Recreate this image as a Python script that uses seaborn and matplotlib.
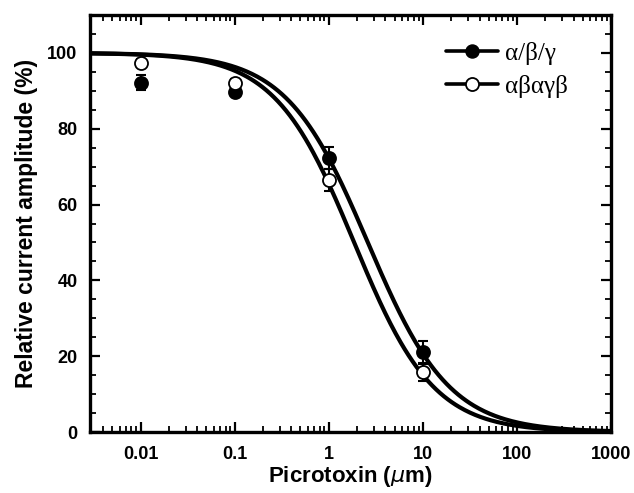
import numpy as np
import pandas as pd
import matplotlib
matplotlib.use("Agg")
import matplotlib.pyplot as plt
import seaborn as sns
from matplotlib.lines import Line2D
from matplotlib.ticker import LogLocator, MultipleLocator, NullFormatter, FixedLocator, FixedFormatter

# ---- data ----
conc = [0.01, 0.1, 1, 10]
filled_vals = [92.1, 89.6, 72.2, 21.0]
filled_err = [2.0, 1.0, 2.9, 3.1]
open_vals = [97.3, 92.0, 66.4, 15.9]
open_err = [1.0, 1.0, 2.9, 2.4]
series_names = ["α/β/γ", "αβαγβ"]
ic50 = [2.6, 1.86]
hill_n = [1.0, 1.03]
xtick_vals = [0.01, 0.1, 1, 10, 100, 1000]
xtick_labels = ["0.01", "0.1", "1", "10", "100", "1000"]
ytick_vals = [0, 20, 40, 60, 80, 100]

sns.set_style("ticks")
plt.rcParams['font.family'] = ['Liberation Sans', 'DejaVu Sans']
plt.rcParams['text.color'] = 'black'
plt.rcParams['axes.labelcolor'] = 'black'
plt.rcParams['xtick.color'] = 'black'
plt.rcParams['ytick.color'] = 'black'

fig = plt.figure(figsize=(6.34, 4.93), dpi=100)
ax = fig.add_axes([0.142, 0.1237, 0.8218, 0.8459])

# fitted curves
xfit = np.logspace(np.log10(0.0029), np.log10(1000), 400)
rows = []
for name, c, n in zip(series_names, ic50, hill_n):
    yfit = 100.0 / (1.0 + (xfit / c) ** n)
    rows.append(pd.DataFrame({"x": xfit, "y": yfit, "s": name}))
curves = pd.concat(rows)
sns.lineplot(data=curves, x="x", y="y", units="s", estimator=None,
             color="black", linewidth=3.0, ax=ax, legend=False, zorder=2)

# error bars
ax.errorbar(conc, filled_vals, yerr=filled_err, fmt="none", ecolor="black",
            elinewidth=1.5, capsize=3.5, capthick=1.5, zorder=3)
ax.errorbar(conc, open_vals, yerr=open_err, fmt="none", ecolor="black",
            elinewidth=1.5, capsize=3.5, capthick=1.5, zorder=3)

pts = pd.DataFrame({"x": conc * 2, "y": filled_vals + open_vals,
                    "s": [series_names[0]] * 4 + [series_names[1]] * 4})
sns.scatterplot(data=pts[pts.s == series_names[0]], x="x", y="y", color="black",
                s=88, edgecolor="black", linewidth=1.3, ax=ax, legend=False, zorder=4)
sns.scatterplot(data=pts[pts.s == series_names[1]], x="x", y="y", color="white",
                s=88, edgecolor="black", linewidth=1.3, ax=ax, legend=False, zorder=5)

ax.set_xscale("log")
ax.set_xlim(0.0029, 1000)
ax.set_ylim(0, 110)

ax.xaxis.set_major_locator(FixedLocator(xtick_vals))
ax.xaxis.set_major_formatter(FixedFormatter(xtick_labels))
ax.xaxis.set_minor_locator(LogLocator(base=10, subs=np.arange(2, 10), numticks=20))
ax.xaxis.set_minor_formatter(NullFormatter())
ax.yaxis.set_major_locator(FixedLocator(ytick_vals))
ax.yaxis.set_minor_locator(MultipleLocator(5))

ax.tick_params(which="both", direction="in", top=True, right=True, color="black")
ax.tick_params(which="major", length=7, width=1.6)
ax.tick_params(which="minor", length=4, width=1.3)
ax.tick_params(axis="both", which="major", labelsize=13, labelcolor="black")
ax.tick_params(axis="x", which="major", pad=10)
ax.tick_params(axis="y", which="major", pad=9)
for lab in ax.get_xticklabels() + ax.get_yticklabels():
    lab.set_fontweight("bold")

for sp in ax.spines.values():
    sp.set_linewidth(2.4)
    sp.set_color("black")
    sp.set_visible(True)

ax.set_xlabel(r"Picrotoxin ($\mathit{\mu}$m)", fontsize=16, fontweight="bold",
              labelpad=1, color="black")
ax.set_ylabel("Relative current amplitude (%)", fontsize=16.5, fontweight="bold",
              labelpad=7, color="black")

handles = [
    Line2D([], [], color="black", linewidth=2.6, marker="o", markersize=9.4,
           markerfacecolor="black", markeredgecolor="black"),
    Line2D([], [], color="black", linewidth=2.6, marker="o", markersize=9.4,
           markerfacecolor="white", markeredgecolor="black", markeredgewidth=1.3),
]
leg = ax.legend(handles, series_names, loc="upper left", frameon=False,
                bbox_to_anchor=(0.64, 0.99), handlelength=2.1, handletextpad=0.25,
                labelspacing=0.4, prop={"family": "Liberation Serif", "size": 18})
for t in leg.get_texts():
    t.set_color("black")

fig.savefig("out.png", dpi=100)
